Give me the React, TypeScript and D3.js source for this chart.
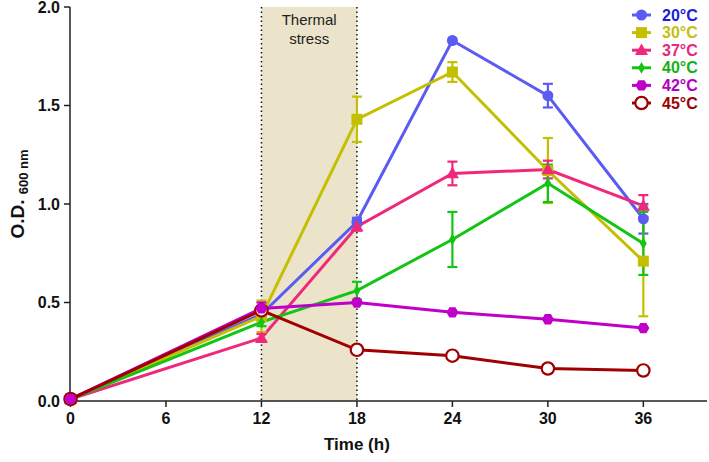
import React from "react";
import * as d3 from "d3";

const times = [0, 12, 18, 24, 30, 36];
const xTicks = [0, 6, 12, 18, 24, 30, 36];
const yTicks = [0, 0.5, 1.0, 1.5, 2.0];

const series20 = [0.01, 0.44, 0.91, 1.83, 1.55, 0.925];
const err20 = [0, 0.02, 0.02, 0, 0.06, 0.075];
const series30 = [0.01, 0.43, 1.43, 1.67, 1.17, 0.71];
const err30 = [0, 0.08, 0.115, 0.05, 0.165, 0.28];
const series37 = [0.01, 0.32, 0.885, 1.155, 1.175, 0.99];
const err37 = [0, 0.02, 0.02, 0.06, 0.045, 0.055];
const series40 = [0.01, 0.40, 0.56, 0.82, 1.105, 0.80];
const err40 = [0, 0.02, 0.045, 0.14, 0.095, 0.16];
const series42 = [0.01, 0.47, 0.50, 0.45, 0.415, 0.37];
const err42 = [0, 0.03, 0, 0, 0, 0];
const series45 = [0.01, 0.46, 0.26, 0.23, 0.165, 0.155];
const err45 = [0, 0, 0, 0, 0, 0];

const labels = ["20°C", "30°C", "37°C", "40°C", "42°C", "45°C"];
const lineColors = ["#5b5bf2", "#c4bf00", "#f0287c", "#14c414", "#c000c8", "#a00000"];
const textColors = ["#1c1cd4", "#c4bf10", "#e8287a", "#18b018", "#b400c0", "#a00000"];
const markers = ["circle", "square", "triangle", "diamond", "hexagon", "open"];

const allValues = [series20, series30, series37, series40, series42, series45];
const allErrors = [err20, err30, err37, err40, err42, err45];

const W = 709;
const H = 462;

function Marker({ type, cx, cy, color }: { type: string; cx: number; cy: number; color: string }) {
  if (type === "circle") return <circle cx={cx} cy={cy} r={5.5} fill={color} />;
  if (type === "square") return <rect x={cx - 5.5} y={cy - 5.5} width={11} height={11} fill={color} />;
  if (type === "triangle") {
    const p = d3.symbol(d3.symbolTriangle, 75)()!;
    return <path d={p} transform={`translate(${cx},${cy + 1})`} fill={color} />;
  }
  if (type === "diamond") {
    const p = d3.symbol(d3.symbolDiamond, 40)()!;
    return <path d={p} transform={`translate(${cx},${cy})`} fill={color} />;
  }
  if (type === "hexagon") {
    const r = 6;
    const pts = d3.range(6).map((i) => {
      const a = (Math.PI / 3) * i;
      return [cx + r * Math.cos(a), cy + r * Math.sin(a)].join(",");
    });
    return <polygon points={pts.join(" ")} fill={color} />;
  }
  return <circle cx={cx} cy={cy} r={6.2} fill="#fff" stroke={color} strokeWidth={2.2} />;
}

export default function App() {
  const x = d3.scaleLinear().domain([0, 40]).range([70.5, 707]);
  const y = d3.scaleLinear().domain([0, 2]).range([401, 7]);
  const line = d3
    .line<number>()
    .x((_, i) => x(times[i]))
    .y((d) => y(d));

  const font = "Arial, 'Liberation Sans', sans-serif";
  const order = [0, 1, 2, 3, 5, 4];

  return (
    <svg width={W} height={H} style={{ position: "absolute", left: 0, top: 0 }} fontFamily={font}>
      <rect width={W} height={H} fill="#fff" />
      {/* shaded thermal stress region */}
      <rect x={x(12)} y={y(2)} width={x(18) - x(12)} height={y(0) - y(2)} fill="#ebe4cb" />
      <line x1={x(12)} x2={x(12)} y1={y(2)} y2={y(0)} stroke="#111" strokeWidth={1.5} strokeDasharray="1.5,3" />
      <line x1={x(18)} x2={x(18)} y1={y(2)} y2={y(0)} stroke="#111" strokeWidth={1.5} strokeDasharray="1.5,3" />
      <text x={x(15)} y={25} textAnchor="middle" fontSize={15} fill="#222">Thermal</text>
      <text x={x(15)} y={44} textAnchor="middle" fontSize={15} fill="#222">stress</text>

      {/* axes */}
      <line x1={70} x2={70} y1={y(2)} y2={y(0)} stroke="#222" strokeWidth={1.5} />
      <line x1={70} x2={707} y1={y(0)} y2={y(0)} stroke="#222" strokeWidth={1.5} />
      {yTicks.map((t) => (
        <g key={"y" + t}>
          <line x1={64} x2={70} y1={y(t)} y2={y(t)} stroke="#222" strokeWidth={1.5} />
          <text x={60} y={y(t) + 5.5} textAnchor="end" fontSize={16} fontWeight="bold" fill="#111">
            {t.toFixed(1)}
          </text>
        </g>
      ))}
      {xTicks.map((t) => (
        <g key={"x" + t}>
          <line x1={x(t)} x2={x(t)} y1={y(0)} y2={y(0) + 6} stroke="#222" strokeWidth={1.5} />
          <text x={x(t)} y={424} textAnchor="middle" fontSize={16} fontWeight="bold" fill="#111">
            {t}
          </text>
        </g>
      ))}
      <text x={x(18)} y={450} textAnchor="middle" fontSize={17} fontWeight="bold" fill="#111">
        Time (h)
      </text>
      <text transform={`translate(24,${y(1) - 10}) rotate(-90)`} textAnchor="middle" fontWeight="bold" fill="#111">
        <tspan fontSize={19}>O.D. </tspan>
        <tspan fontSize={13} dy={4}>600 nm</tspan>
      </text>

      {/* lines */}
      {allValues.map((vals, s) => (
        <path key={"l" + s} d={line(vals)!} fill="none" stroke={lineColors[s]} strokeWidth={3} />
      ))}
      {/* error bars */}
      {allValues.map((vals, s) =>
        vals.map((v, i) =>
          allErrors[s][i] > 0 ? (
            <g key={"e" + s + "-" + i} stroke={lineColors[s]} strokeWidth={2.2}>
              <line x1={x(times[i])} x2={x(times[i])} y1={y(v - allErrors[s][i])} y2={y(v + allErrors[s][i])} />
              <line x1={x(times[i]) - 5} x2={x(times[i]) + 5} y1={y(v + allErrors[s][i])} y2={y(v + allErrors[s][i])} />
              <line x1={x(times[i]) - 5} x2={x(times[i]) + 5} y1={y(v - allErrors[s][i])} y2={y(v - allErrors[s][i])} />
            </g>
          ) : null
        )
      )}
      {/* markers */}
      {order.map((s) =>
        allValues[s].map((v, i) => (
          <Marker key={"m" + s + "-" + i} type={markers[s]} cx={x(times[i])} cy={y(v)} color={lineColors[s]} />
        ))
      )}

      {/* legend */}
      {labels.map((lab, i) => {
        const ly = 15 + i * 17.6;
        return (
          <g key={"lg" + i}>
            <line x1={632} x2={651} y1={ly} y2={ly} stroke={lineColors[i]} strokeWidth={3} />
            <Marker type={markers[i]} cx={641.5} cy={ly} color={lineColors[i]} />
            <text x={662} y={ly + 5.5} fontSize={16} fontWeight="bold" fill={textColors[i]}>
              {lab}
            </text>
          </g>
        );
      })}
    </svg>
  );
}
